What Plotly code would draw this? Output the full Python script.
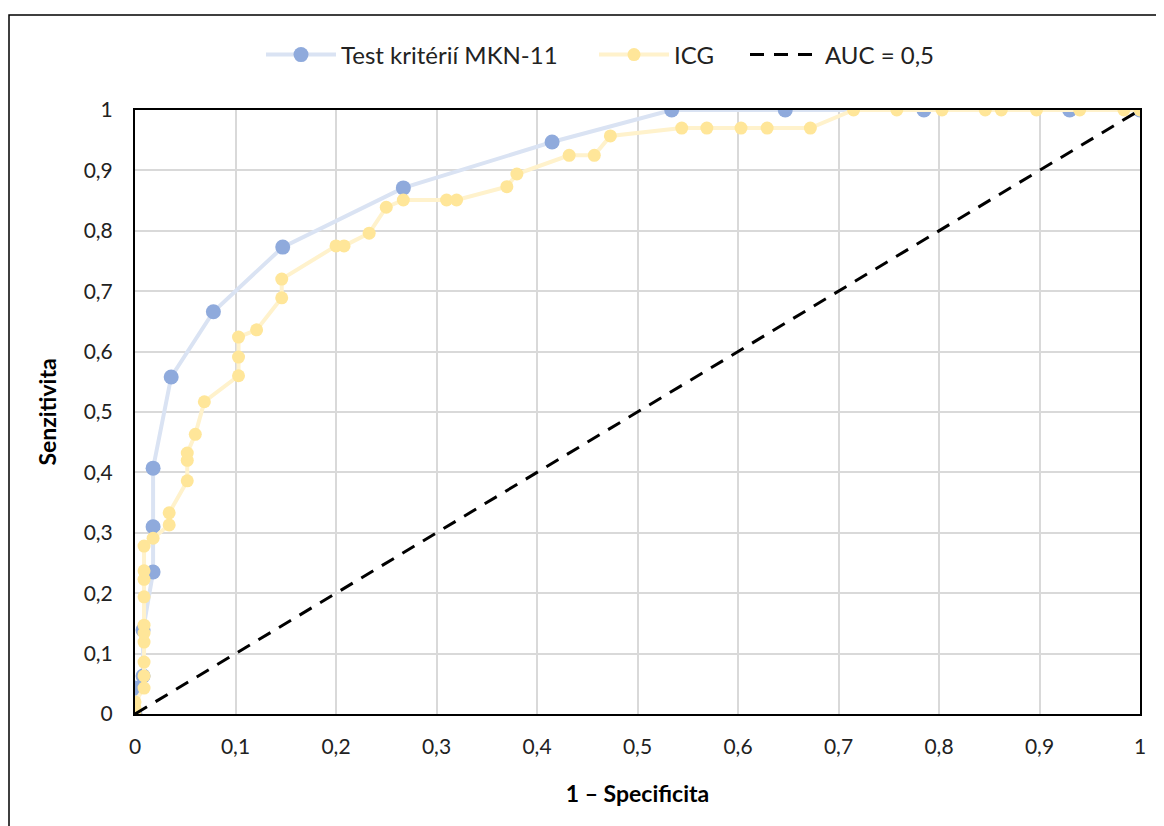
import plotly.graph_objects as go

# MKN-11 test criteria ROC points
mkn_fpr = [0, 0, 0.008, 0.008, 0.018, 0.018, 0.018, 0.036, 0.078, 0.147, 0.267, 0.415, 0.534, 0.647, 0.785, 0.930, 1.0]
mkn_tpr = [0, 0.043, 0.063, 0.139, 0.235, 0.31, 0.407, 0.558, 0.666, 0.773, 0.871, 0.947, 1, 1, 1, 1, 1]

# ICG ROC points
icg_fpr = [0, 0, 0, 0.009, 0.009, 0.009, 0.009, 0.009, 0.009, 0.009, 0.009, 0.009, 0.009,
           0.018, 0.034, 0.034, 0.052, 0.052, 0.052, 0.060, 0.069, 0.103, 0.103, 0.103, 0.121,
           0.146, 0.146, 0.200, 0.208, 0.233, 0.250, 0.267, 0.310, 0.320, 0.370, 0.380, 0.432,
           0.457, 0.473, 0.544, 0.569, 0.603, 0.629, 0.672, 0.715, 0.758, 0.803, 0.846, 0.862,
           0.897, 0.940, 0.984, 1.0]
icg_tpr = [0, 0.01, 0.02, 0.043, 0.063, 0.086, 0.119, 0.134, 0.147, 0.194, 0.223, 0.237, 0.278,
           0.291, 0.313, 0.333, 0.386, 0.42, 0.432, 0.463, 0.517, 0.560, 0.591, 0.624, 0.636,
           0.689, 0.72, 0.775, 0.775, 0.796, 0.839, 0.851, 0.851, 0.851, 0.873, 0.894, 0.925,
           0.925, 0.957, 0.970, 0.970, 0.970, 0.970, 0.970, 1, 1, 1, 1, 1,
           1, 1, 1, 1]

ref_x = [0, 1]
ref_y = [0, 1]

tick_vals = [0, 0.1, 0.2, 0.3, 0.4, 0.5, 0.6, 0.7, 0.8, 0.9, 1]
tick_text = ["0", "0,1", "0,2", "0,3", "0,4", "0,5", "0,6", "0,7", "0,8", "0,9", "1"]

FONT = "Lato, 'Open Sans', sans-serif"

fig = go.Figure()
fig.add_trace(go.Scatter(
    x=mkn_fpr, y=mkn_tpr, mode="lines+markers", name="Test kritérií MKN-11",
    line=dict(color="#dae3f3", width=4),
    marker=dict(color="#8faadc", size=15),
    legend="legend",
))
fig.add_trace(go.Scatter(
    x=icg_fpr, y=icg_tpr, mode="lines+markers", name="ICG",
    line=dict(color="#fff2cc", width=4),
    marker=dict(color="#ffe699", size=13),
    legend="legend2",
))
fig.add_trace(go.Scatter(
    x=ref_x, y=ref_y, mode="lines", name="AUC = 0,5",
    line=dict(color="black", width=3, dash="14px,10px"),
    legend="legend3",
))

axis_common = dict(
    range=[0, 1], tickvals=tick_vals, ticktext=tick_text,
    showgrid=True, gridcolor="#d9d9d9", gridwidth=2,
    showline=True, linecolor="black", linewidth=2, mirror=True,
    zeroline=False, ticks="", tickfont=dict(family=FONT, size=21, color="#222"),
)

def px_x(p):
    return (p - 135) / 1005

def px_y(p):
    return (714 - p) / 604

def leg(px_left):
    return dict(orientation="h", x=px_x(px_left - 5), y=px_y(55), xanchor="left", yanchor="middle",
                font=dict(family=FONT, size=24, color="#222"), itemwidth=70,
                bgcolor="rgba(0,0,0,0)")

# page body adds an 8px offset; margins compensate so plot area sits at x 135..1140, y 110..714
fig.update_layout(
    width=1164, height=826,
    margin=dict(l=127, r=32, t=102, b=120),
    paper_bgcolor="white", plot_bgcolor="white",
    font=dict(family=FONT, color="black"),
    xaxis=dict(axis_common, ticklabelstandoff=13,
               title=dict(text="<b>1 – Specificita</b>", font=dict(family=FONT, size=23), standoff=29)),
    yaxis=dict(axis_common, ticklabelstandoff=16,
               title=dict(text="<b>Senzitivita</b>", font=dict(family=FONT, size=23), standoff=21)),
    showlegend=True,
    legend=leg(266),
    legend2=leg(599),
    legend3=leg(750),
    shapes=[dict(type="rect", xref="paper", yref="paper",
                 x0=px_x(9), x1=px_x(1185),
                 y0=px_y(850), y1=px_y(15),
                 line=dict(color="black", width=1.5), fillcolor="rgba(0,0,0,0)", layer="below")],
)

fig.write_html("out.html")
